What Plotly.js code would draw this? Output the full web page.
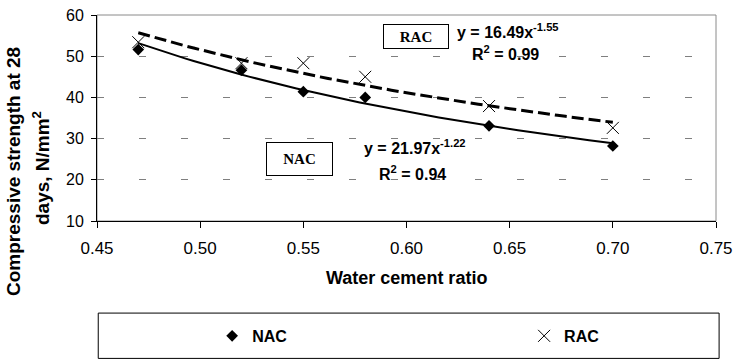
<!DOCTYPE html>
<html>
<head>
<meta charset="utf-8">
<script src="https://cdn.plot.ly/plotly-3.0.1.min.js"></script>
<style>html,body{margin:0;padding:0;background:#fff}#chart{width:737px;height:359px}</style>
</head>
<body>
<div id="chart"></div>
<script>
// Data
const wcRatio = [0.47, 0.52, 0.55, 0.58, 0.64, 0.70];
const nacStrength = [51.6, 46.6, 41.4, 40.0, 33.1, 28.2];
const racStrength = [53.4, 48.3, 48.3, 45.0, 37.9, 32.6];
const xTicks = [0.45, 0.50, 0.55, 0.60, 0.65, 0.70, 0.75];
const yTicks = [10, 20, 30, 40, 50, 60];

// Power-law trend (least squares in log space), as in the spreadsheet trendline
function powerFit(xs, ys) {
  const lx = xs.map(Math.log), ly = ys.map(Math.log);
  const n = xs.length;
  const mx = lx.reduce((a, b) => a + b, 0) / n, my = ly.reduce((a, b) => a + b, 0) / n;
  let sxy = 0, sxx = 0;
  for (let i = 0; i < n; i++) { sxy += (lx[i] - mx) * (ly[i] - my); sxx += (lx[i] - mx) ** 2; }
  const b = sxy / sxx, a = Math.exp(my - b * mx);
  const x0 = Math.min(...xs), x1 = Math.max(...xs);
  const tx = [], ty = [];
  for (let k = 0; k <= 60; k++) { const x = x0 + (x1 - x0) * k / 60; tx.push(x); ty.push(a * Math.pow(x, b)); }
  return {tx, ty};
}
const nacFit = powerFit(wcRatio, nacStrength);
const racFit = powerFit(wcRatio, racStrength);

const sans = 'Liberation Sans, Arial, sans-serif';
const traces = [
  {x: nacFit.tx, y: nacFit.ty, mode: 'lines', line: {color: '#000', width: 2}, showlegend: false, hoverinfo: 'skip'},
  {x: racFit.tx, y: racFit.ty, mode: 'lines', line: {color: '#000', width: 3, dash: '12px,5px'}, showlegend: false, hoverinfo: 'skip'},
  {x: wcRatio, y: nacStrength, name: 'NAC', legend: 'legend', mode: 'markers', marker: {symbol: 'diamond', size: 9, color: '#000'}},
  {x: wcRatio, y: racStrength, name: 'RAC', legend: 'legend2', mode: 'markers', marker: {symbol: 'x-thin-open', size: 12, color: '#000', line: {color: '#000', width: 1}}}
];

const eqFont = {family: sans, size: 16, color: '#000', weight: 'bold'};
const boxFont = {family: 'Liberation Serif, Times New Roman, serif', size: 15, color: '#000', weight: 'bold'};
const legFont = {family: sans, size: 16, color: '#000', weight: 'bold'};

const layout = {
  width: 737, height: 359,
  margin: {l: 97, r: 21, t: 15, b: 138, autoexpand: false},
  paper_bgcolor: '#fff', plot_bgcolor: '#fff',
  font: {family: sans, color: '#000'},
  showlegend: true,
  legend: {orientation: 'h', x: 0.186, xanchor: 'left', y: -0.558, yanchor: 'middle',
           bgcolor: 'rgba(0,0,0,0)', borderwidth: 0, font: legFont, itemwidth: 30},
  legend2: {orientation: 'h', x: 0.690, xanchor: 'left', y: -0.558, yanchor: 'middle',
            bgcolor: 'rgba(0,0,0,0)', borderwidth: 0, font: legFont, itemwidth: 30},
  xaxis: {
    range: [0.45, 0.75], tickvals: xTicks, ticktext: xTicks.map(v => v.toFixed(2)),
    showline: true, linecolor: '#000', linewidth: 1, ticks: 'outside', ticklen: 6, tickcolor: '#000',
    showgrid: false, zeroline: false, ticklabelstandoff: 6,
    tickfont: {family: sans, size: 17}
  },
  yaxis: {
    range: [10, 60], tickvals: yTicks,
    showline: true, linecolor: '#000', linewidth: 1, ticks: 'outside', ticklen: 5, tickcolor: '#000',
    showgrid: true, gridcolor: '#7f7f7f', gridwidth: 1, griddash: '7px,35px', zeroline: false,
    ticklabelstandoff: 4, tickfont: {family: sans, size: 16}
  },
  shapes: [
    {type: 'rect', xref: 'paper', yref: 'paper', x0: 0, x1: 1, y0: 0, y1: 1, line: {color: '#8a8a8a', width: 1}, layer: 'below'},
    {type: 'rect', xref: 'paper', yref: 'paper', x0: 0.002, x1: 1.005, y0: -0.447, y1: -0.667, line: {color: '#000', width: 1}}
  ],
  annotations: [
    // axis titles
    {x: 0.5, y: -0.2767, xref: 'paper', yref: 'paper', xanchor: 'center', yanchor: 'middle', showarrow: false,
     text: 'Water cement ratio', font: {family: sans, size: 18, weight: 'bold'}},
    {x: -0.134, y: 0.238, xref: 'paper', yref: 'paper', xanchor: 'center', yanchor: 'middle', showarrow: false, textangle: -90,
     text: 'Compressive strength at 28', font: {family: sans, size: 19, weight: 'bold'}},
    {x: -0.0905, y: 0.257, xref: 'paper', yref: 'paper', xanchor: 'center', yanchor: 'middle', showarrow: false, textangle: -90,
     text: 'days, N/mm<sup>2</sup>', font: {family: sans, size: 19, weight: 'bold'}},
    // labelled boxes
    {x: 0.6046, y: 54.8, xref: 'x', yref: 'y', text: 'RAC', showarrow: false, font: boxFont,
     bordercolor: '#000', borderwidth: 1, borderpad: 1, width: 62, height: 21, bgcolor: '#fff'},
    {x: 0.5482, y: 25.05, xref: 'x', yref: 'y', text: 'NAC', showarrow: false, font: boxFont,
     bordercolor: '#000', borderwidth: 1, borderpad: 1, width: 63, height: 30, bgcolor: '#fff'},
    // trend equations
    {x: 0.6235, y: 56.1, xref: 'x', yref: 'y', xanchor: 'left', text: 'y = 16.49x<sup>-1.55</sup>', showarrow: false, font: eqFont},
    {x: 0.6308, y: 50.78, xref: 'x', yref: 'y', xanchor: 'left', text: 'R<sup>2</sup> = 0.99', showarrow: false, font: eqFont},
    {x: 0.5785, y: 27.96, xref: 'x', yref: 'y', xanchor: 'left', text: 'y = 21.97x<sup>-1.22</sup>', showarrow: false, font: eqFont},
    {x: 0.5857, y: 21.65, xref: 'x', yref: 'y', xanchor: 'left', text: 'R<sup>2</sup> = 0.94', showarrow: false, font: eqFont}
  ]
};

Plotly.newPlot('chart', traces, layout, {displayModeBar: false, staticPlot: true});
</script>
</body>
</html>
